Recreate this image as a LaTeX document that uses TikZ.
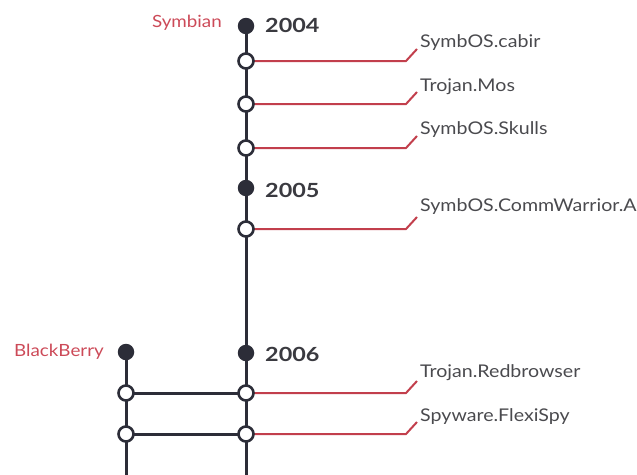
\documentclass[tikz,border=0pt]{standalone}
\usepackage{fontspec}
\setmainfont{Lato}[FakeStretch=1.12]
\newfontfamily\yearfont{Lato}[FakeStretch=1.2]
\definecolor{linedark}{HTML}{2C2D38}
\definecolor{linered}{HTML}{C23F4C}
\definecolor{txtred}{HTML}{CC4A58}
\definecolor{txtgray}{HTML}{4A4A4E}
\definecolor{yeargray}{HTML}{3A3A40}
\begin{document}
\begin{tikzpicture}[x=1pt,y=-1pt,
  track/.style={draw=linedark,line width=3pt},
  redline/.style={draw=linered,line width=2pt},
  dot/.style={circle,fill=linedark,minimum size=16.5pt,inner sep=0pt},
  ring/.style={circle,draw=linedark,fill=white,line width=2.6pt,minimum size=15pt,inner sep=0pt},
  year/.style={anchor=west,font=\yearfont\fontsize{19.5}{21}\selectfont\bfseries,text=yeargray,inner sep=0pt},
  osname/.style={anchor=east,font=\fontsize{16.8}{18}\selectfont,text=txtred,inner sep=0pt},
  mal/.style={anchor=west,font=\fontsize{17.5}{19}\selectfont,text=txtgray,inner sep=0pt}]
\useasboundingbox (0,0) rectangle (637,474);
% bottom ends
\coordinate (mbot) at (246,476);
\coordinate (bbot) at (126,476);
% marker positions
\coordinate (p04) at (246,26);
\coordinate (p1) at (246,61);
\coordinate (p2) at (246,104);
\coordinate (p3) at (246,148);
\coordinate (p05) at (246,188);
\coordinate (p4) at (246,229);
\coordinate (p06) at (246,353);
\coordinate (p5) at (246,393);
\coordinate (p6) at (246,434);
\coordinate (pbb) at (126,352);
\coordinate (q5) at (126,393);
\coordinate (q6) at (126,434);
% kinks
\coordinate (k1a) at (406,61);  \coordinate (k1b) at (417,49);
\coordinate (k2a) at (406,104); \coordinate (k2b) at (417,92);
\coordinate (k3a) at (406,148); \coordinate (k3b) at (417,136);
\coordinate (k4a) at (406,229); \coordinate (k4b) at (417,217);
\coordinate (k5a) at (406,393); \coordinate (k5b) at (417,381);
\coordinate (k6a) at (406,434); \coordinate (k6b) at (417,422);
% tracks
\draw[track] (p04) -- (mbot);
\draw[track] (pbb) -- (bbot);
\draw[track] (q5) -- (p5);
\draw[track] (q6) -- (p6);
% red connectors
\draw[redline] (p1) -- (k1a) -- (k1b);
\draw[redline] (p2) -- (k2a) -- (k2b);
\draw[redline] (p3) -- (k3a) -- (k3b);
\draw[redline] (p4) -- (k4a) -- (k4b);
\draw[redline] (p5) -- (k5a) -- (k5b);
\draw[redline] (p6) -- (k6a) -- (k6b);
% markers
\node[dot] (d04) at (p04) {};
\node[dot] (d05) at (p05) {};
\node[dot] (d06) at (p06) {};
\node[dot] (dbb) at (pbb) {};
\node[ring] (r1) at (p1) {};
\node[ring] (r2) at (p2) {};
\node[ring] (r3) at (p3) {};
\node[ring] (r4) at (p4) {};
\node[ring] (r5) at (p5) {};
\node[ring] (r6) at (p6) {};
\node[ring] (s5) at (q5) {};
\node[ring] (s6) at (q6) {};
% labels
\node[year] (y04) at (265,25) {2004};
\node[year] (y05) at (265,190) {2005};
\node[year] (y06) at (265,354) {2006};
\node[osname] (sym) at (222,23) {Symbian};
\node[osname] (bb) at (104,352) {BlackBerry};
\node[mal] (m1) at (420,43) {SymbOS.cabir};
\node[mal] (m2) at (420,87) {Trojan.Mos};
\node[mal] (m3) at (420,130) {SymbOS.Skulls};
\node[mal] (m4) at (420,207) {SymbOS.CommWarrior.A};
\node[mal] (m5) at (420,373) {Trojan.Redbrowser};
\node[mal] (m6) at (420,417) {Spyware.FlexiSpy};
\end{tikzpicture}
\end{document}
